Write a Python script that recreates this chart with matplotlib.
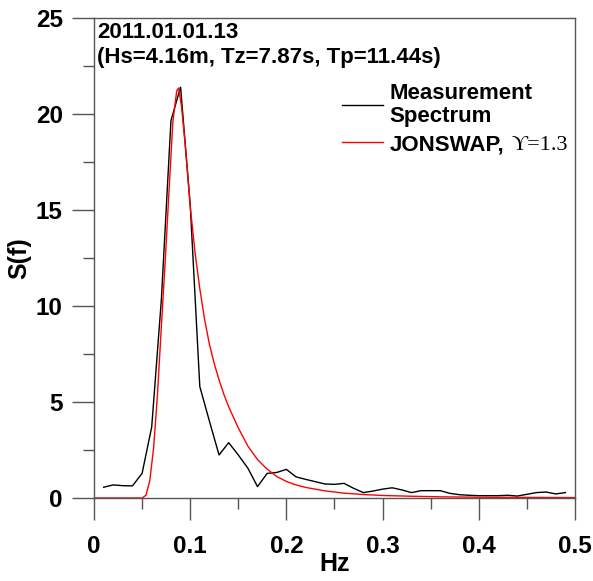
import numpy as np
import matplotlib
matplotlib.use("Agg")
import matplotlib.pyplot as plt
from matplotlib.ticker import MultipleLocator

# measured spectrum (0.01 Hz bins)
meas_f = [0.01, 0.02, 0.03, 0.04, 0.05, 0.06, 0.07, 0.08, 0.09, 0.10,
          0.11, 0.12, 0.13, 0.14, 0.15, 0.16, 0.17, 0.18, 0.19, 0.20,
          0.21, 0.22, 0.23, 0.24, 0.25, 0.26, 0.27, 0.28, 0.29, 0.30,
          0.31, 0.32, 0.33, 0.34, 0.35, 0.36, 0.37, 0.38, 0.39, 0.40,
          0.41, 0.42, 0.43, 0.44, 0.45, 0.46, 0.47, 0.48, 0.49]
meas_s = [0.56, 0.68, 0.64, 0.63, 1.28, 3.7, 10.3, 19.65, 21.4, 15.3,
          5.8, 4.0, 2.24, 2.88, 2.24, 1.55, 0.59, 1.28, 1.33, 1.49,
          1.10, 0.97, 0.85, 0.73, 0.71, 0.76, 0.50, 0.28, 0.36, 0.46,
          0.53, 0.42, 0.28, 0.38, 0.38, 0.38, 0.24, 0.17, 0.14, 0.12,
          0.12, 0.12, 0.14, 0.10, 0.19, 0.28, 0.31, 0.21, 0.28]

# fitted JONSWAP spectrum, gamma = 1.3
jon_f = [0.0, 0.05, 0.054, 0.058, 0.062, 0.066, 0.070, 0.074, 0.078, 0.082,
         0.086, 0.088, 0.091, 0.095, 0.100, 0.105, 0.110, 0.115, 0.120, 0.125,
         0.130, 0.135, 0.140, 0.150, 0.160, 0.170, 0.180, 0.190, 0.200, 0.210,
         0.220, 0.240, 0.260, 0.280, 0.300, 0.330, 0.360, 0.400, 0.450, 0.500]
jon_s = [0.0, 0.0, 0.14, 0.9, 2.6, 5.4, 8.9, 12.3, 16.0, 19.6,
         21.2, 21.35, 20.4, 18.3, 15.2, 12.8, 10.9, 9.3, 8.0, 7.0,
         6.15, 5.4, 4.75, 3.65, 2.7, 2.0, 1.5, 1.12, 0.86, 0.68,
         0.55, 0.37, 0.25, 0.18, 0.13, 0.09, 0.06, 0.04, 0.03, 0.02]

plt.rcParams['font.family'] = ['Liberation Sans', 'DejaVu Sans']
plt.rcParams['font.weight'] = 'bold'

fig = plt.figure(figsize=(5.93, 5.81), dpi=100)
ax = fig.add_axes([0.1585, 0.1429, 0.8111, 0.8262])

ax.plot(meas_f, meas_s, color='black', lw=1.0, label='Measurement\nSpectrum')
ax.plot(jon_f, jon_s, color='red', lw=1.0, label='JONSWAP,')

ax.set_xlim(0, 0.5)
ax.set_ylim(0, 25)
ax.xaxis.set_major_locator(MultipleLocator(0.1))
ax.xaxis.set_minor_locator(MultipleLocator(0.05))
ax.yaxis.set_major_locator(MultipleLocator(5))
ax.yaxis.set_minor_locator(MultipleLocator(2.5))
ax.xaxis.set_major_formatter(plt.FuncFormatter(lambda v, p: '0' if v == 0 else f'{v:g}'))

for s in ax.spines.values():
    s.set_color('#555555')
    s.set_linewidth(1.0)
ax.tick_params(which='major', length=16, width=1, color='#555555', labelsize=17.5)
ax.tick_params(axis='x', which='major', pad=11)
ax.tick_params(axis='y', which='major', pad=6.5)
ax.tick_params(which='minor', length=8, width=1, color='#555555')

ax.set_xlabel('Hz', fontsize=18, fontweight='bold')
ax.set_ylabel('S(f)', fontsize=18, fontweight='bold')
ax.xaxis.set_label_coords(0.5, -0.1125)
ax.yaxis.set_label_coords(-0.13, 0.5)

ax.text(0.006, 0.991, '2011.01.01.13\n(Hs=4.16m, Tz=7.87s, Tp=11.44s)',
        transform=ax.transAxes, ha='left', va='top', fontsize=16,
        fontweight='bold', linespacing=1.25)

leg = ax.legend(loc='upper left', bbox_to_anchor=(0.5156, 0.865), frameon=False,
                fontsize=16, handlelength=1.85, handletextpad=0.3,
                labelspacing=0.32, borderaxespad=0, borderpad=0)
for t in leg.get_texts():
    t.set_fontweight('bold')
    t.set_linespacing(1.15)

# gamma value in serif, right after the "JONSWAP," legend entry
fig.canvas.draw()
bb = leg.get_texts()[1].get_window_extent()
fig.text((bb.x1 + 7) / fig.bbox.width, bb.y0 / fig.bbox.height, '\u03d2=1.3',
         ha='left', va='bottom', fontsize=16, fontweight='normal',
         family=['Liberation Serif', 'DejaVu Serif'])

fig.savefig('out.png', dpi=100)
